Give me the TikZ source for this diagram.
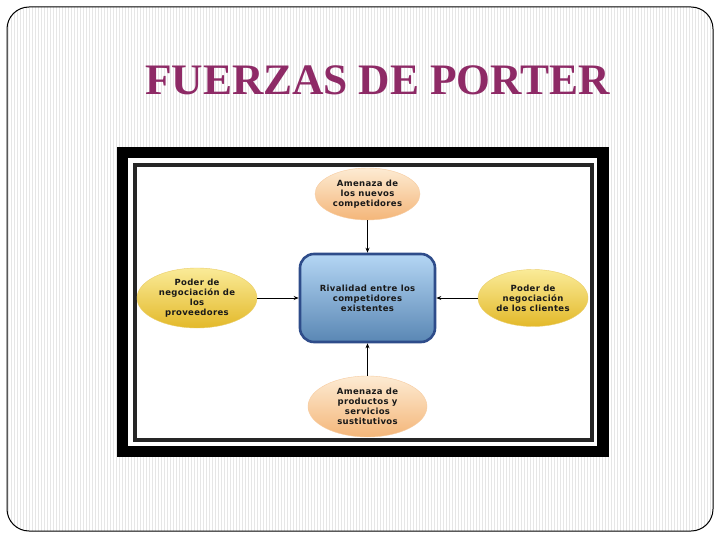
\documentclass[tikz,border=0pt]{standalone}
\usepackage{fontspec}
\setmainfont{Liberation Serif}
\newfontfamily\lblfont[LetterSpace=4]{DejaVu Sans}
\usetikzlibrary{shapes.geometric,arrows.meta}
\definecolor{titlecol}{HTML}{8E2A66}
\definecolor{stripe}{HTML}{E6E6E6}
\definecolor{orTop}{HTML}{FDEBD3}
\definecolor{orBot}{HTML}{F4B679}
\definecolor{yeTop}{HTML}{FAEB98}
\definecolor{yeBot}{HTML}{E3B92A}
\definecolor{blTop}{HTML}{B4D6F4}
\definecolor{blBot}{HTML}{5A87B4}
\definecolor{blEdge}{HTML}{2E4C8A}
\tikzset{
  lbl/.style={font=\lblfont\bfseries\fontsize{8.5}{10}\selectfont, align=center, text=black!90},
  orell/.style={ellipse, lbl, top color=orTop, bottom color=orBot, draw=orBot!70, line width=0.4pt, inner sep=0pt},
  yeell/.style={ellipse, lbl, top color=yeTop, bottom color=yeBot, draw=yeBot!70, line width=0.4pt, inner sep=0pt},
  centbox/.style={rectangle, rounded corners=14pt, lbl, top color=blTop, bottom color=blBot, draw=blEdge, line width=2.6pt},
  conn/.style={-{Stealth[length=5pt,width=4pt]}, line width=0.8pt, black}
}
\begin{document}
\begin{tikzpicture}[x=1pt,y=-1pt]
\useasboundingbox (0,0) rectangle (720,540);
\fill[white] (0,0) rectangle (720,540);
% slide background with stripes
\begin{scope}
\clip[rounded corners=22pt] (7,7) rectangle (713,531);
\fill[white] (7,7) rectangle (713,531);
\foreach \i in {8,11,...,713} { \draw[stripe, line width=0.9pt] (\i,7) -- (\i,531); }
\end{scope}
\draw[black, line width=1pt, rounded corners=22pt] (7,7) rectangle (713,531);
% title
\node[font=\bfseries\fontsize{43.5}{43.5}\selectfont, text=titlecol, anchor=base] (title) at (377.5,95) {FUERZAS DE PORTER};
% frame
\fill[black] (117,147) rectangle (609,457);
\fill[white] (128,158) rectangle (597,446);
\fill[black!85] (133,163) rectangle (594,442);
\fill[white] (137,167) rectangle (590,438);
% nodes
\node[centbox, minimum width=135pt, minimum height=88pt] (rv) at (367.5,298) {Rivalidad entre los\\competidores\\existentes};
\node[orell, minimum width=105pt, minimum height=52pt] (top) at (367.5,194) {Amenaza de\\los nuevos\\competidores};
\node[yeell, minimum width=120pt, minimum height=60pt] (lft) at (197,298) {Poder de\\negociación de\\los\\proveedores};
\node[yeell, minimum width=110pt, minimum height=57pt] (rgt) at (533,298) {Poder de\\negociación\\de los clientes};
\node[orell, minimum width=119pt, minimum height=61pt] (bot) at (367.5,406.5) {Amenaza de\\productos y\\servicios\\sustitutivos};
% connectors
\draw[conn] (top.south) -- (rv.north);
\draw[conn] (lft.east) -- (rv.west);
\draw[conn] (rgt.west) -- (rv.east);
\draw[conn] (bot.north) -- (rv.south);
\end{tikzpicture}
\end{document}
